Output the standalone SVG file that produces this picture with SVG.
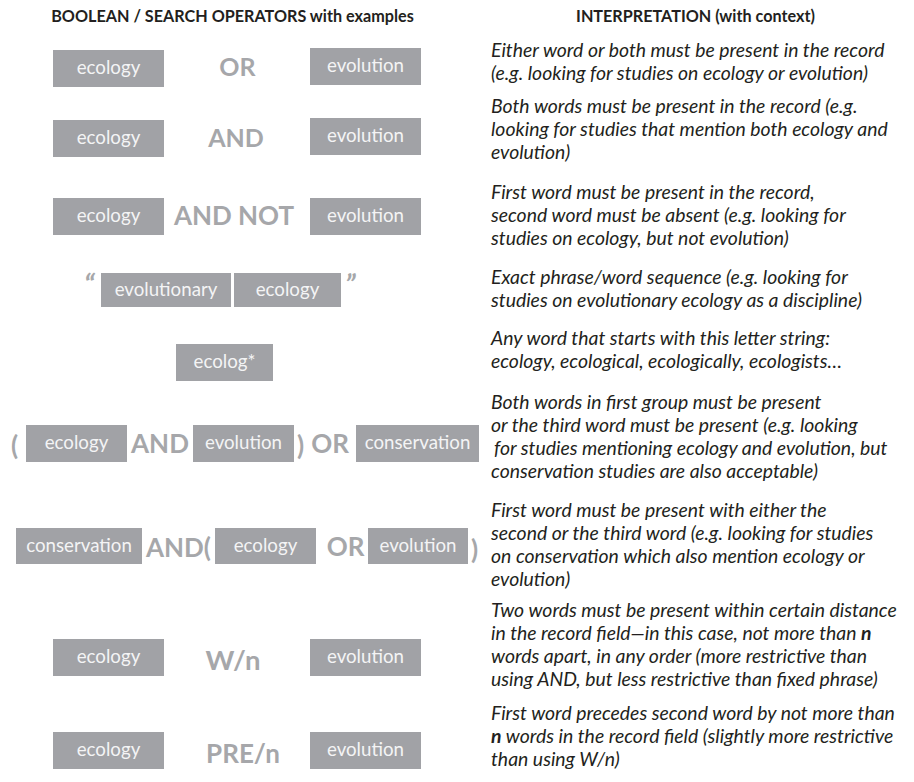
<svg xmlns="http://www.w3.org/2000/svg" width="914" height="782" viewBox="0 0 914 782">
  <style>
    .box { fill: #a1a2a6; }
    .bt { font-family: Lato, "Open Sans", sans-serif; font-size: 18.7px; fill: #f4f4f5; text-anchor: middle; }
    .op { font-family: Lato, "Open Sans", sans-serif; font-weight: 700; fill: #a6a7aa; }
    .hd { font-family: Lato, "Open Sans", sans-serif; font-weight: 700; font-size: 16.2px; fill: #231f20; text-anchor: middle; }
    .it { font-family: Lato, "Open Sans", sans-serif; font-style: italic; font-size: 19.4px; fill: #231f20; }
    .b { font-weight: 700; }
  </style>
  <rect width="914" height="782" fill="#ffffff"/>

  <!-- column headings -->
  <g id="headings">
    <text class="hd" x="232.5" y="22">BOOLEAN / SEARCH OPERATORS with examples</text>
    <text class="hd" x="695.5" y="22">INTERPRETATION (with context)</text>
  </g>

  <!-- OR -->
  <g id="row-or">
    <g id="or-ecology"><rect class="box" x="53" y="50" width="111" height="37"/><text class="bt" x="108.5" y="74">ecology</text></g>
    <text class="op" x="237.5" y="76" font-size="25" text-anchor="middle">OR</text>
    <g id="or-evolution"><rect class="box" x="310" y="48" width="111" height="37"/><text class="bt" x="365.5" y="72">evolution</text></g>
    <text class="it" x="491" y="57">Either word or both must be present in the record</text>
    <text class="it" x="491" y="80">(e.g. looking for studies on ecology or evolution)</text>
  </g>

  <!-- AND -->
  <g id="row-and">
    <g id="and-ecology"><rect class="box" x="53" y="120" width="111" height="37"/><text class="bt" x="108.5" y="144">ecology</text></g>
    <text class="op" x="236" y="147" font-size="25" text-anchor="middle">AND</text>
    <g id="and-evolution"><rect class="box" x="310" y="118" width="111" height="37"/><text class="bt" x="365.5" y="142">evolution</text></g>
    <text class="it" x="491" y="113">Both words must be present in the record (e.g.</text>
    <text class="it" x="491" y="136">looking for studies that mention both ecology and</text>
    <text class="it" x="491" y="159">evolution)</text>
  </g>

  <!-- AND NOT -->
  <g id="row-andnot">
    <g id="andnot-ecology"><rect class="box" x="53" y="198" width="111" height="37"/><text class="bt" x="108.5" y="222">ecology</text></g>
    <text class="op" x="234" y="225" font-size="26" text-anchor="middle">AND NOT</text>
    <g id="andnot-evolution"><rect class="box" x="310" y="198" width="111" height="37"/><text class="bt" x="365.5" y="222">evolution</text></g>
    <text class="it" x="491" y="199">First word must be present in the record,</text>
    <text class="it" x="491" y="222">second word must be absent (e.g. looking for</text>
    <text class="it" x="491" y="245">studies on ecology, but not evolution)</text>
  </g>

  <!-- exact phrase -->
  <g id="row-phrase">
    <text class="op" x="84" y="295" font-size="29" font-style="italic">“</text>
    <g id="phrase-evolutionary"><rect class="box" x="101" y="273" width="130" height="34"/><text class="bt" x="166" y="296">evolutionary</text></g>
    <g id="phrase-ecology"><rect class="box" x="234" y="273" width="107" height="34"/><text class="bt" x="287.5" y="296">ecology</text></g>
    <text class="op" x="345" y="295" font-size="29" font-style="italic">”</text>
    <text class="it" x="491" y="284">Exact phrase/word sequence (e.g. looking for</text>
    <text class="it" x="491" y="307">studies on evolutionary ecology as a discipline)</text>
  </g>

  <!-- truncation -->
  <g id="row-wildcard">
    <g id="wildcard-ecolog"><rect class="box" x="176" y="344" width="97" height="37"/><text class="bt" x="224.5" y="368">ecolog*</text></g>
    <text class="it" x="491" y="345">Any word that starts with this letter string:</text>
    <text class="it" x="491" y="368">ecology, ecological, ecologically, ecologists…</text>
  </g>

  <!-- (A AND B) OR C -->
  <g id="row-group-or">
    <text class="op" x="11" y="455" font-size="26">(</text>
    <g id="group-or-ecology"><rect class="box" x="26" y="425" width="101" height="37"/><text class="bt" x="76.5" y="449">ecology</text></g>
    <text class="op" x="160" y="453" font-size="26" text-anchor="middle">AND</text>
    <g id="group-or-evolution"><rect class="box" x="193" y="425" width="101" height="37"/><text class="bt" x="243.5" y="449">evolution</text></g>
    <text class="op" x="297" y="455" font-size="26">)</text>
    <text class="op" x="330" y="453" font-size="26" text-anchor="middle">OR</text>
    <g id="group-or-conservation"><rect class="box" x="356" y="425" width="123" height="37"/><text class="bt" x="417.5" y="449">conservation</text></g>
    <text class="it" x="491" y="409">Both words in first group must be present</text>
    <text class="it" x="491" y="432">or the third word must be present (e.g. looking</text>
    <text class="it" x="494" y="455">for studies mentioning ecology and evolution, but</text>
    <text class="it" x="491" y="478">conservation studies are also acceptable)</text>
  </g>

  <!-- A AND (B OR C) -->
  <g id="row-and-group">
    <g id="and-group-conservation"><rect class="box" x="16" y="528" width="126" height="36"/><text class="bt" x="79" y="552">conservation</text></g>
    <text class="op" x="146" y="557" font-size="26">AND(</text>
    <g id="and-group-ecology"><rect class="box" x="215" y="528" width="101" height="36"/><text class="bt" x="265.5" y="552">ecology</text></g>
    <text class="op" x="345.5" y="556" font-size="26" text-anchor="middle">OR</text>
    <g id="and-group-evolution"><rect class="box" x="368" y="528" width="100" height="36"/><text class="bt" x="418" y="552">evolution</text></g>
    <text class="op" x="471" y="559" font-size="26">)</text>
    <text class="it" x="491" y="517">First word must be present with either the</text>
    <text class="it" x="491" y="540">second or the third word (e.g. looking for studies</text>
    <text class="it" x="491" y="563">on conservation which also mention ecology or</text>
    <text class="it" x="491" y="586">evolution)</text>
  </g>

  <!-- W/n -->
  <g id="row-within">
    <g id="within-ecology"><rect class="box" x="53" y="639" width="111" height="37"/><text class="bt" x="108.5" y="663">ecology</text></g>
    <text class="op" x="233" y="670" font-size="27.5" text-anchor="middle">W/n</text>
    <g id="within-evolution"><rect class="box" x="310" y="639" width="111" height="37"/><text class="bt" x="365.5" y="663">evolution</text></g>
    <text class="it" x="491" y="617">Two words must be present within certain distance</text>
    <text class="it" x="491" y="640">in the record field—in this case, not more than <tspan class="b">n</tspan></text>
    <text class="it" x="491" y="663">words apart, in any order (more restrictive than</text>
    <text class="it" x="491" y="686">using AND, but less restrictive than fixed phrase)</text>
  </g>

  <!-- PRE/n -->
  <g id="row-precedes">
    <g id="precedes-ecology"><rect class="box" x="53" y="732" width="111" height="37"/><text class="bt" x="108.5" y="756">ecology</text></g>
    <text class="op" x="243" y="763" font-size="26" text-anchor="middle">PRE/n</text>
    <g id="precedes-evolution"><rect class="box" x="310" y="732" width="111" height="37"/><text class="bt" x="365.5" y="756">evolution</text></g>
    <text class="it" x="491" y="720">First word precedes second word by not more than</text>
    <text class="it" x="491" y="743"><tspan class="b">n</tspan> words in the record field (slightly more restrictive</text>
    <text class="it" x="491" y="766">than using W/n)</text>
  </g>
</svg>
